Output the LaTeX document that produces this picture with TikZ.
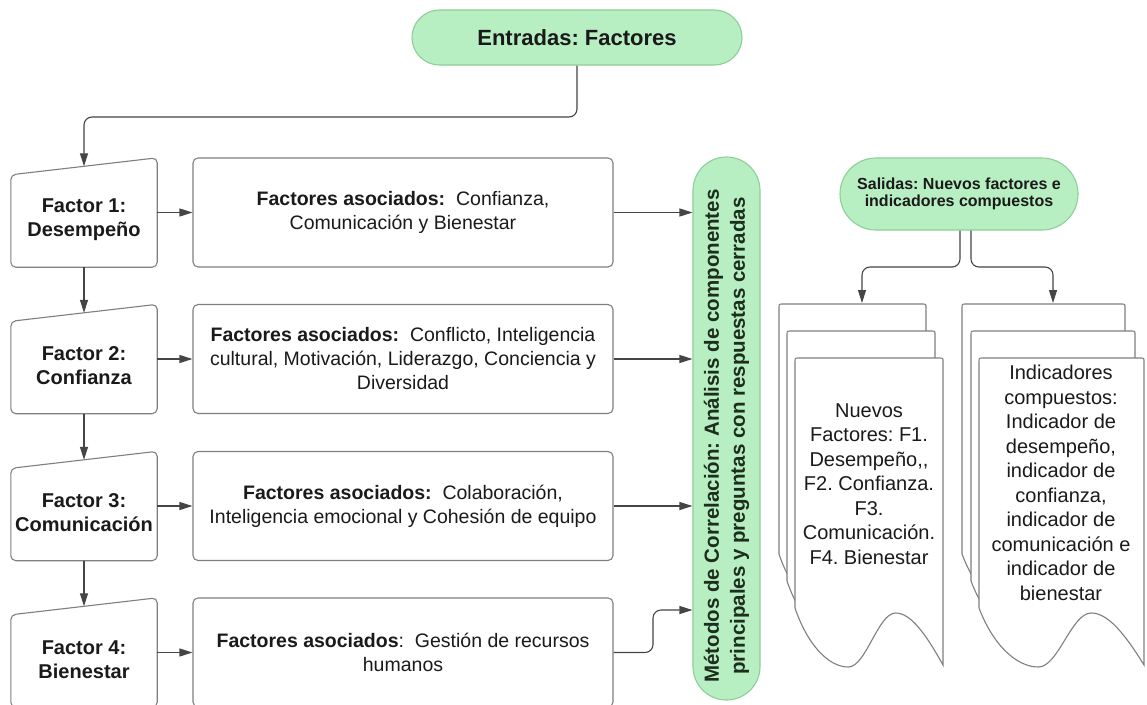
\documentclass[tikz,border=0pt]{standalone}
\usepackage{fontspec}
\setmainfont{Liberation Sans}
\usetikzlibrary{arrows.meta,calc}
\frenchspacing

\definecolor{pillfill}{HTML}{B8EFC2}
\definecolor{pillline}{HTML}{8CCF98}
\definecolor{boxline}{HTML}{7F7F7F}
\definecolor{wire}{HTML}{454545}
\definecolor{ink}{HTML}{1A1A1A}
\definecolor{greenink}{HTML}{1E2E1E}

\tikzset{
  conn/.style={draw=wire, line width=1.1pt, rounded corners=8pt, -{Triangle[length=13pt,width=8pt]}},
  pill/.style={draw=pillline, fill=pillfill, line width=1.1pt, rounded corners=#1, text=ink, inner sep=0pt},
  factorbox/.style={minimum width=146pt, minimum height=109pt, inner sep=0pt},
  factorline/.style={draw=boxline, fill=white, line width=1.1pt, rounded corners=5pt},
  factortxt/.style={font=\fontsize{20}{24}\selectfont\bfseries, align=center, text=ink},
  descbox/.style={draw=boxline, line width=1.1pt, rounded corners=5pt, minimum width=420pt,
    minimum height=109pt, align=center, font=\fontsize{19.5}{24}\selectfont, text=ink, inner sep=0pt},
  sheet/.style={draw=boxline, fill=white, line width=1.1pt},
  sheettxt/.style={font=\fontsize{20}{24.5}\selectfont, align=center, text=ink},
}

% one sheet of a document stack: #1 left, #2 top, #3 width
\newcommand\docsheet[3]{%
  \filldraw[sheet] ({#1},{#2+250}) -- ({#1},{#2+4}) .. controls ({#1},{#2}) .. ({#1+4},{#2})
    -- ({#1+#3-4},{#2}) .. controls ({#1+#3},{#2}) .. ({#1+#3},{#2+4})
    -- ({#1+#3},{#2+307})
    .. controls ({#1+0.88*#3},{#2+275}) and ({#1+0.78*#3},{#2+255}) .. ({#1+0.68*#3},{#2+255})
    .. controls ({#1+0.56*#3},{#2+255}) and ({#1+0.48*#3},{#2+309}) .. ({#1+0.36*#3},{#2+309})
    .. controls ({#1+0.22*#3},{#2+309}) and ({#1+0.08*#3},{#2+285}) .. ({#1},{#2+250}) -- cycle;}

% draws the slanted-top factor outline around a named node
\newcommand\factoroutline[1]{%
  \path[factorline] (#1.south west) -- ($(#1.north west)+(0,17)$) -- (#1.north east)
    -- (#1.south east) -- cycle;}

\begin{document}
\begin{tikzpicture}[x=1pt,y=-1pt]
\useasboundingbox (0,0) rectangle (1147,704);
\fill[white] (0,0) rectangle (1147,704);
\clip (0,0) rectangle (1147,704);

% input pill
\node[pill=27.5pt, minimum width=330pt, minimum height=55pt,
      font=\fontsize{22}{26}\selectfont\bfseries] (e) at (577,37.5) {Entradas: Factores};

% factor blocks
\node[factorbox] (f1) at (84,212.5) {};
\node[factorbox] (f2) at (84,359) {};
\node[factorbox] (f3) at (84,506) {};
\node[factorbox] (f4) at (84,652.5) {};
\factoroutline{f1}
\factoroutline{f2}
\factoroutline{f3}
\factoroutline{f4}
\node[factortxt] (f1t) at ($(f1.center)+(0,7)$) {Factor 1:\\Desempeño};
\node[factortxt] (f2t) at ($(f2.center)+(0,7)$) {Factor 2:\\Confianza};
\node[factortxt] (f3t) at ($(f3.center)+(0,7)$) {Factor 3:\\Comunicación};
\node[factortxt] (f4t) at ($(f4.center)+(0,7)$) {Factor 4:\\Bienestar};

% associated factors
\node[descbox] (d1) at (403,212.5) {\textbf{Factores asociados:}\ \ Confianza,\\Comunicación y Bienestar};
\node[descbox] (d2) at (403,359) {\textbf{Factores asociados:}\ \ Conflicto, Inteligencia\\cultural, Motivación, Liderazgo, Conciencia y\\Diversidad};
\node[descbox] (d3) at (403,506) {\textbf{Factores asociados:}\ \ Colaboración,\\Inteligencia emocional y Cohesión de equipo};
\node[descbox] (d4) at (403,652.5) {\textbf{Factores asociados}:\ \ Gestión de recursos\\humanos};

% correlation methods pill
\node[pill=33.5pt, minimum width=67pt, minimum height=543pt] (m) at (726.5,428.5) {};
\node[rotate=90, align=center, text=greenink, font=\fontsize{20.5}{26}\selectfont\bfseries]
  (mt) at (726.5,436) {Métodos de Correlación: Análisis de componentes\\principales y preguntas con respuestas cerradas};

% output pill
\node[pill=36pt, minimum width=238pt, minimum height=72pt, align=center,
      font=\fontsize{16}{17.5}\selectfont\bfseries] (s) at (959,194) {Salidas: Nuevos factores e\\indicadores compuestos};

% document stacks
\docsheet{779}{304}{147}
\docsheet{787}{331}{148}
\docsheet{795}{358}{148}
\docsheet{962}{304}{163}
\docsheet{971}{331}{164}
\docsheet{979}{358}{165}
\node[sheettxt] (dl) at (869,484) {Nuevos\\Factores: F1.\\Desempeño,{},\\F2. Confianza.\\F3.\\Comunicación.\\F4. Bienestar};
\node[sheettxt] (dr) at (1061,483) {Indicadores\\compuestos:\\Indicador de\\desempeño,\\indicador de\\confianza,\\indicador de\\comunicación e\\indicador de\\bienestar};
\coordinate (lback) at (862,303);
\coordinate (rback) at (1053,303);

% connectors
\coordinate (ebend) at (84,117);
\draw[conn] (e.south) |- (ebend) -- ($(f1.north)+(0,8.5)$);
\draw[conn] (f1.south) -- ($(f2.north)+(0,8.5)$);
\draw[conn] (f2.south) -- ($(f3.north)+(0,8.5)$);
\draw[conn] (f3.south) -- ($(f4.north)+(0,8.5)$);
\draw[conn] (f1.east) -- (d1.west);
\draw[conn] (f2.east) -- (d2.west);
\draw[conn] (f3.east) -- (d3.west);
\draw[conn] (f4.east) -- (d4.west);
\draw[conn] (d1.east) -- (d1.east -| m.west);
\draw[conn] (d2.east) -- (d2.east -| m.west);
\draw[conn] (d3.east) -- (d3.east -| m.west);
\coordinate (bend4) at (653,610);
\draw[conn] (d4.east) -- (d4.east -| bend4) -- (bend4) -- (bend4 -| m.west);
\draw[conn] ($(s.south)+(1,0)$) |- ($(lback)+(0,-36)$) -- (lback);
\draw[conn] ($(s.south)+(12,0)$) |- ($(rback)+(0,-36)$) -- (rback);
\end{tikzpicture}
\end{document}
